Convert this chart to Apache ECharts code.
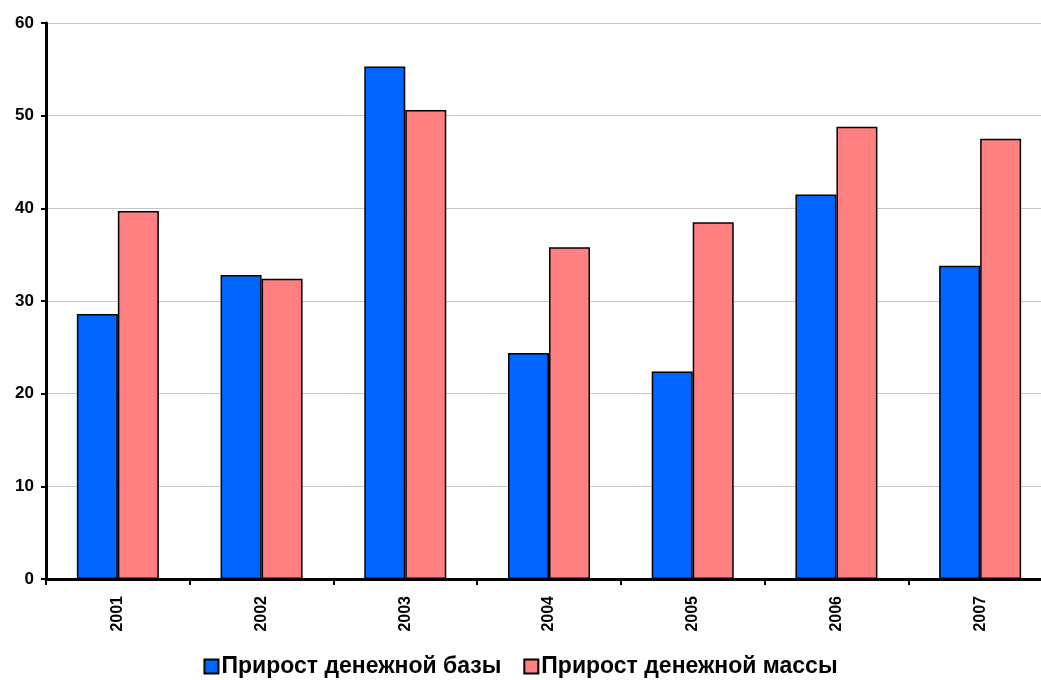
<!DOCTYPE html>
<html>
<head>
<meta charset="utf-8">
<script src="https://cdn.jsdelivr.net/npm/echarts@6/dist/echarts.min.js"></script>
<style>
  html, body { margin: 0; padding: 0; background: #fff; }
  #chart { width: 1041px; height: 680px; }
</style>
</head>
<body>
<div id="chart"></div>
<script>
// Годы
const years = ['2001', '2002', '2003', '2004', '2005', '2006', '2007'];
// Прирост денежной базы, %
const baseGrowth = [28.6, 32.8, 55.3, 24.4, 22.4, 41.5, 33.8];
// Прирост денежной массы, %
const m2Growth = [39.7, 32.4, 50.6, 35.8, 38.5, 48.8, 47.5];
// Деления оси значений
const yMin = 0, yMax = 60, yStep = 10;

const seriesNames = ['Прирост денежной базы', 'Прирост денежной массы'];
const font = 'Liberation Sans, Arial, sans-serif';

const chart = echarts.init(document.getElementById('chart'));
chart.setOption({
  animation: false,
  backgroundColor: '#ffffff',
  // область построения шире окна: последний год обрезан справа
  grid: { left: 46, width: 1006, top: 23, bottom: 101, outerBoundsMode: 'none', containLabel: false },
  legend: {
    top: 655,
    left: 'center',
    padding: 0,
    itemWidth: 14,
    itemHeight: 14,
    itemGap: 22,
    icon: 'rect',
    textStyle: { fontFamily: font, fontWeight: 'bold', fontSize: 23, color: '#000', padding: [0, 0, 0, -2] },
    data: seriesNames
  },
  xAxis: {
    type: 'category',
    data: years,
    axisLine: { lineStyle: { color: '#000', width: 3 } },
    axisTick: { show: true, length: 6, lineStyle: { color: '#000', width: 2 } },
    axisLabel: {
      rotate: 90, margin: 17,
      fontFamily: font, fontWeight: 'bold', fontSize: 16, color: '#000'
    },
    splitLine: { show: false }
  },
  yAxis: {
    type: 'value',
    min: yMin, max: yMax, interval: yStep,
    axisLine: { show: true, lineStyle: { color: '#000', width: 3 } },
    axisTick: { show: true, length: 5, lineStyle: { color: '#000', width: 2 } },
    axisLabel: { margin: 12, fontFamily: font, fontWeight: 'bold', fontSize: 17, color: '#000' },
    splitLine: { show: true, lineStyle: { color: '#c8c8c8', width: 1 } }
  },
  series: [
    {
      name: seriesNames[0],
      type: 'bar',
      data: baseGrowth,
      barWidth: 41,
      barGap: '0%',
      itemStyle: { color: '#0066ff', borderColor: '#000', borderWidth: 1.5 }
    },
    {
      name: seriesNames[1],
      type: 'bar',
      data: m2Growth,
      barWidth: 41,
      barGap: '0%',
      itemStyle: { color: '#ff8080', borderColor: '#000', borderWidth: 1.5 }
    }
  ]
});
</script>
</body>
</html>
